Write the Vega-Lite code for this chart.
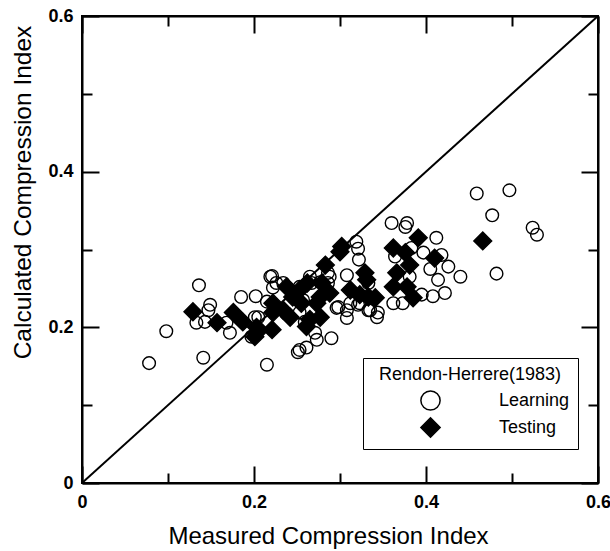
{
  "$schema": "https://vega.github.io/schema/vega-lite/v6.json",
  "width": 516,
  "height": 467,
  "autosize": {"type": "none"},
  "padding": {"left": 82, "top": 16, "right": 12, "bottom": 68},
  "background": "white",
  "config": {
    "view": {"stroke": "black", "strokeWidth": 2},
    "font": "Liberation Sans",
    "axis": {"grid": false, "domainColor": "black", "domainWidth": 2, "tickColor": "black", "tickWidth": 2, "labelColor": "black", "titleColor": "black", "labelFont": "Liberation Sans", "titleFont": "Liberation Sans"}
  },
  "layer": [
    {
      "data": {"values": [{"measured": 0, "calculated": 0}, {"measured": 0.6, "calculated": 0.6}]},
      "mark": {"type": "line", "color": "black", "strokeWidth": 2},
      "encoding": {
        "x": {"field": "measured", "type": "quantitative", "scale": {"domain": [0, 0.6], "nice": false, "zero": false},
          "axis": {"orient": "top", "values": [0, 0.1, 0.2, 0.3, 0.4, 0.5, 0.6], "labels": false, "title": null,
            "tickSize": {"condition": {"test": "round(datum.value*10)%2===0", "value": -17}, "value": -10}}},
        "y": {"field": "calculated", "type": "quantitative", "scale": {"domain": [0, 0.6], "nice": false, "zero": false},
          "axis": {"orient": "right", "values": [0, 0.1, 0.2, 0.3, 0.4, 0.5, 0.6], "labels": false, "title": null,
            "tickSize": {"condition": {"test": "round(datum.value*10)%2===0", "value": -17}, "value": -10}}}
      }
    },
    {
      "data": {"values": [
        {"measured": 0.078, "calculated": 0.154, "set": "Learning"},
        {"measured": 0.098, "calculated": 0.195, "set": "Learning"},
        {"measured": 0.136, "calculated": 0.254, "set": "Learning"},
        {"measured": 0.141, "calculated": 0.161, "set": "Learning"},
        {"measured": 0.133, "calculated": 0.206, "set": "Learning"},
        {"measured": 0.143, "calculated": 0.207, "set": "Learning"},
        {"measured": 0.147, "calculated": 0.222, "set": "Learning"},
        {"measured": 0.149, "calculated": 0.229, "set": "Learning"},
        {"measured": 0.168, "calculated": 0.206, "set": "Learning"},
        {"measured": 0.172, "calculated": 0.193, "set": "Learning"},
        {"measured": 0.185, "calculated": 0.239, "set": "Learning"},
        {"measured": 0.202, "calculated": 0.240, "set": "Learning"},
        {"measured": 0.205, "calculated": 0.213, "set": "Learning"},
        {"measured": 0.197, "calculated": 0.188, "set": "Learning"},
        {"measured": 0.215, "calculated": 0.152, "set": "Learning"},
        {"measured": 0.221, "calculated": 0.266, "set": "Learning"},
        {"measured": 0.222, "calculated": 0.251, "set": "Learning"},
        {"measured": 0.201, "calculated": 0.213, "set": "Learning"},
        {"measured": 0.215, "calculated": 0.233, "set": "Learning"},
        {"measured": 0.219, "calculated": 0.265, "set": "Learning"},
        {"measured": 0.226, "calculated": 0.257, "set": "Learning"},
        {"measured": 0.234, "calculated": 0.257, "set": "Learning"},
        {"measured": 0.245, "calculated": 0.244, "set": "Learning"},
        {"measured": 0.253, "calculated": 0.252, "set": "Learning"},
        {"measured": 0.257, "calculated": 0.235, "set": "Learning"},
        {"measured": 0.265, "calculated": 0.265, "set": "Learning"},
        {"measured": 0.267, "calculated": 0.257, "set": "Learning"},
        {"measured": 0.277, "calculated": 0.258, "set": "Learning"},
        {"measured": 0.286, "calculated": 0.257, "set": "Learning"},
        {"measured": 0.288, "calculated": 0.265, "set": "Learning"},
        {"measured": 0.253, "calculated": 0.219, "set": "Learning"},
        {"measured": 0.271, "calculated": 0.193, "set": "Learning"},
        {"measured": 0.273, "calculated": 0.184, "set": "Learning"},
        {"measured": 0.290, "calculated": 0.186, "set": "Learning"},
        {"measured": 0.251, "calculated": 0.168, "set": "Learning"},
        {"measured": 0.253, "calculated": 0.171, "set": "Learning"},
        {"measured": 0.298, "calculated": 0.226, "set": "Learning"},
        {"measured": 0.308, "calculated": 0.222, "set": "Learning"},
        {"measured": 0.312, "calculated": 0.231, "set": "Learning"},
        {"measured": 0.308, "calculated": 0.212, "set": "Learning"},
        {"measured": 0.323, "calculated": 0.231, "set": "Learning"},
        {"measured": 0.333, "calculated": 0.222, "set": "Learning"},
        {"measured": 0.344, "calculated": 0.219, "set": "Learning"},
        {"measured": 0.343, "calculated": 0.213, "set": "Learning"},
        {"measured": 0.319, "calculated": 0.310, "set": "Learning"},
        {"measured": 0.321, "calculated": 0.301, "set": "Learning"},
        {"measured": 0.322, "calculated": 0.287, "set": "Learning"},
        {"measured": 0.360, "calculated": 0.334, "set": "Learning"},
        {"measured": 0.378, "calculated": 0.334, "set": "Learning"},
        {"measured": 0.376, "calculated": 0.329, "set": "Learning"},
        {"measured": 0.412, "calculated": 0.315, "set": "Learning"},
        {"measured": 0.397, "calculated": 0.296, "set": "Learning"},
        {"measured": 0.383, "calculated": 0.302, "set": "Learning"},
        {"measured": 0.418, "calculated": 0.293, "set": "Learning"},
        {"measured": 0.405, "calculated": 0.275, "set": "Learning"},
        {"measured": 0.426, "calculated": 0.278, "set": "Learning"},
        {"measured": 0.381, "calculated": 0.265, "set": "Learning"},
        {"measured": 0.414, "calculated": 0.261, "set": "Learning"},
        {"measured": 0.422, "calculated": 0.244, "set": "Learning"},
        {"measured": 0.408, "calculated": 0.240, "set": "Learning"},
        {"measured": 0.395, "calculated": 0.242, "set": "Learning"},
        {"measured": 0.362, "calculated": 0.231, "set": "Learning"},
        {"measured": 0.373, "calculated": 0.231, "set": "Learning"},
        {"measured": 0.459, "calculated": 0.372, "set": "Learning"},
        {"measured": 0.497, "calculated": 0.376, "set": "Learning"},
        {"measured": 0.477, "calculated": 0.344, "set": "Learning"},
        {"measured": 0.524, "calculated": 0.328, "set": "Learning"},
        {"measured": 0.529, "calculated": 0.319, "set": "Learning"},
        {"measured": 0.482, "calculated": 0.269, "set": "Learning"},
        {"measured": 0.440, "calculated": 0.265, "set": "Learning"},
        {"measured": 0.364, "calculated": 0.291, "set": "Learning"},
        {"measured": 0.286, "calculated": 0.270, "set": "Learning"},
        {"measured": 0.308, "calculated": 0.267, "set": "Learning"},
        {"measured": 0.333, "calculated": 0.257, "set": "Learning"},
        {"measured": 0.296, "calculated": 0.225, "set": "Learning"},
        {"measured": 0.321, "calculated": 0.229, "set": "Learning"},
        {"measured": 0.335, "calculated": 0.222, "set": "Learning"},
        {"measured": 0.259, "calculated": 0.207, "set": "Learning"},
        {"measured": 0.261, "calculated": 0.174, "set": "Learning"},
        {"measured": 0.129, "calculated": 0.220, "set": "Testing"},
        {"measured": 0.157, "calculated": 0.206, "set": "Testing"},
        {"measured": 0.176, "calculated": 0.219, "set": "Testing"},
        {"measured": 0.187, "calculated": 0.207, "set": "Testing"},
        {"measured": 0.203, "calculated": 0.193, "set": "Testing"},
        {"measured": 0.221, "calculated": 0.197, "set": "Testing"},
        {"measured": 0.222, "calculated": 0.219, "set": "Testing"},
        {"measured": 0.300, "calculated": 0.297, "set": "Testing"},
        {"measured": 0.283, "calculated": 0.280, "set": "Testing"},
        {"measured": 0.329, "calculated": 0.270, "set": "Testing"},
        {"measured": 0.331, "calculated": 0.261, "set": "Testing"},
        {"measured": 0.279, "calculated": 0.257, "set": "Testing"},
        {"measured": 0.312, "calculated": 0.248, "set": "Testing"},
        {"measured": 0.323, "calculated": 0.242, "set": "Testing"},
        {"measured": 0.341, "calculated": 0.238, "set": "Testing"},
        {"measured": 0.288, "calculated": 0.244, "set": "Testing"},
        {"measured": 0.273, "calculated": 0.231, "set": "Testing"},
        {"measured": 0.277, "calculated": 0.213, "set": "Testing"},
        {"measured": 0.265, "calculated": 0.210, "set": "Testing"},
        {"measured": 0.245, "calculated": 0.239, "set": "Testing"},
        {"measured": 0.238, "calculated": 0.252, "set": "Testing"},
        {"measured": 0.234, "calculated": 0.222, "set": "Testing"},
        {"measured": 0.242, "calculated": 0.213, "set": "Testing"},
        {"measured": 0.222, "calculated": 0.231, "set": "Testing"},
        {"measured": 0.203, "calculated": 0.200, "set": "Testing"},
        {"measured": 0.201, "calculated": 0.188, "set": "Testing"},
        {"measured": 0.261, "calculated": 0.201, "set": "Testing"},
        {"measured": 0.391, "calculated": 0.315, "set": "Testing"},
        {"measured": 0.362, "calculated": 0.302, "set": "Testing"},
        {"measured": 0.376, "calculated": 0.296, "set": "Testing"},
        {"measured": 0.410, "calculated": 0.289, "set": "Testing"},
        {"measured": 0.381, "calculated": 0.280, "set": "Testing"},
        {"measured": 0.366, "calculated": 0.270, "set": "Testing"},
        {"measured": 0.362, "calculated": 0.252, "set": "Testing"},
        {"measured": 0.378, "calculated": 0.252, "set": "Testing"},
        {"measured": 0.385, "calculated": 0.238, "set": "Testing"},
        {"measured": 0.466, "calculated": 0.311, "set": "Testing"},
        {"measured": 0.253, "calculated": 0.248, "set": "Testing"},
        {"measured": 0.262, "calculated": 0.257, "set": "Testing"},
        {"measured": 0.302, "calculated": 0.304, "set": "Testing"},
        {"measured": 0.333, "calculated": 0.239, "set": "Testing"},
        {"measured": 0.277, "calculated": 0.239, "set": "Testing"},
        {"measured": 0.255, "calculated": 0.231, "set": "Testing"}
      ]},
      "mark": {"type": "point", "filled": true, "strokeWidth": 1.4, "opacity": 1},
      "encoding": {
        "x": {"field": "measured", "type": "quantitative", "scale": {"domain": [0, 0.6], "nice": false, "zero": false},
          "axis": {"orient": "bottom", "values": [0, 0.1, 0.2, 0.3, 0.4, 0.5, 0.6], "format": "~g",
            "labelExpr": "round(datum.value*10)%2===0 ? datum.label : ''",
            "tickSize": {"condition": {"test": "round(datum.value*10)%2===0", "value": -17}, "value": -10},
            "labelFlush": false, "labelOverlap": false, "labelFontWeight": "bold", "labelFontSize": 18, "labelPadding": 27,
            "title": "Measured Compression Index", "titleFontSize": 24, "titleFontWeight": "normal", "titlePadding": 6, "titleX": 246}},
        "y": {"field": "calculated", "type": "quantitative", "scale": {"domain": [0, 0.6], "nice": false, "zero": false},
          "axis": {"orient": "left", "values": [0, 0.1, 0.2, 0.3, 0.4, 0.5, 0.6], "format": "~g",
            "labelExpr": "round(datum.value*10)%2===0 ? datum.label : ''",
            "tickSize": {"condition": {"test": "round(datum.value*10)%2===0", "value": -17}, "value": -10},
            "labelFlush": false, "labelOverlap": false, "labelFontWeight": "bold", "labelFontSize": 18, "labelPadding": 26,
            "title": "Calculated Compression Index", "titleFontSize": 24.5, "titleFontWeight": "normal", "titlePadding": 12, "titleY": 176}},
        "shape": {"field": "set", "type": "nominal", "scale": {"domain": ["Learning", "Testing"], "range": ["circle", "diamond"]},
          "legend": {"title": "Rendon-Herrere(1983)", "orient": "none", "legendX": 281, "legendY": 342,
            "strokeColor": "black", "padding": 8, "titleAnchor": "middle", "titleFontSize": 18, "titleFontWeight": "normal", "titleLimit": 400, "titlePadding": 6,
            "labelFontSize": 18, "symbolSize": 370, "symbolOffset": 49, "labelOffset": 58, "rowPadding": 0,
            "symbolStrokeWidth": 1.5}},
        "fill": {"field": "set", "type": "nominal", "scale": {"domain": ["Learning", "Testing"], "range": ["rgba(255,255,255,0)", "black"]},
          "legend": {"title": "Rendon-Herrere(1983)", "orient": "none", "legendX": 281, "legendY": 342,
            "strokeColor": "black", "padding": 8, "titleAnchor": "middle", "titleFontSize": 18, "titleFontWeight": "normal", "titleLimit": 400, "titlePadding": 6,
            "labelFontSize": 18, "symbolSize": 370, "symbolOffset": 49, "labelOffset": 58, "rowPadding": 0,
            "symbolStrokeWidth": 1.5}},
        "stroke": {"field": "set", "type": "nominal", "scale": {"domain": ["Learning", "Testing"], "range": ["black", "black"]},
          "legend": {"title": "Rendon-Herrere(1983)", "orient": "none", "legendX": 281, "legendY": 342,
            "strokeColor": "black", "padding": 8, "titleAnchor": "middle", "titleFontSize": 18, "titleFontWeight": "normal", "titleLimit": 400, "titlePadding": 6,
            "labelFontSize": 18, "symbolSize": 370, "symbolOffset": 49, "labelOffset": 58, "rowPadding": 0,
            "symbolStrokeWidth": 1.5}},
        "size": {"condition": {"test": "datum.set === 'Testing'", "value": 320}, "value": 160}
      }
    }
  ],
  "resolve": {"axis": {"x": "independent", "y": "independent"}}
}
